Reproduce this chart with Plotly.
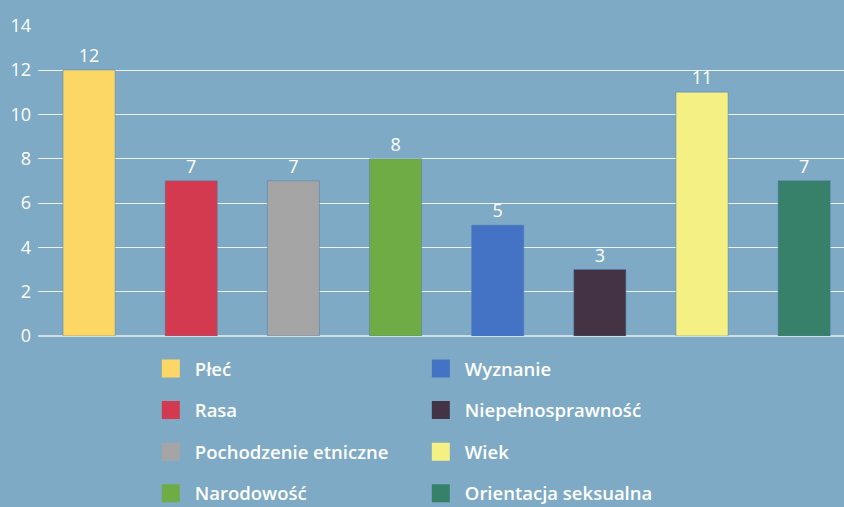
import plotly.graph_objects as go

categories = ["Płeć", "Rasa", "Pochodzenie etniczne", "Narodowość",
              "Wyznanie", "Niepełnosprawność", "Wiek", "Orientacja seksualna"]
values = [12, 7, 7, 8, 5, 3, 11, 7]
colors = ["#fdd766", "#d33a4f", "#a5a5a5", "#6fac45",
          "#4472c4", "#433344", "#f4f084", "#37816a"]
y_ticks = [0, 2, 4, 6, 8, 10, 12, 14]

bg = "#7eaac5"
font_family = "'Open Sans', Roboto, sans-serif"

fig = go.Figure()

# bars (one trace, legend built separately)
fig.add_trace(go.Bar(
    x=categories, y=values,
    marker=dict(color=colors, line=dict(color="rgba(80,120,175,0.45)", width=1)),
    text=[str(v) for v in values], textposition="outside",
    textfont=dict(color="white", size=18, family=font_family),
    cliponaxis=False, showlegend=False, hoverinfo="x+y",
))

# legend entries, split into two columns
for i, (name, col) in enumerate(zip(categories, colors)):
    fig.add_trace(go.Scatter(
        x=[None], y=[None], mode="markers", name=name,
        marker=dict(symbol="square", size=16, color=col, line=dict(color=col, width=2)),
        legend="legend" if i < 4 else "legend2",
        legendgroup=name,
    ))

legend_style = dict(
    font=dict(color="white", size=18.5, family=font_family, weight=600),
    bgcolor="rgba(0,0,0,0)", tracegroupgap=14.5, itemwidth=38,
    yref="container", yanchor="top", y=(507 - 350) / 507, xanchor="left",
)

fig.update_layout(
    width=844, height=507,
    margin=dict(l=38, r=0, t=25, b=171),
    paper_bgcolor=bg, plot_bgcolor=bg,
    bargap=0.49,
    font=dict(family=font_family, color="white"),
    legend=dict(x=0.135, **legend_style),
    legend2=dict(x=0.47, **legend_style),
    xaxis=dict(showticklabels=False, showgrid=False, zeroline=False,
               categoryorder="array", categoryarray=categories,
               range=[-0.5, 7.39], fixedrange=True),
    yaxis=dict(range=[0, 14.03], tickvals=y_ticks, showgrid=True,
               gridcolor="rgba(255,255,255,0.85)", gridwidth=1,
               zeroline=True, zerolinecolor="rgba(220,225,230,0.9)", zerolinewidth=1.5,
               tickfont=dict(color="white", size=18, family=font_family),
               ticks="", ticklabelstandoff=6),
)

fig.write_html("out.html", config={"displayModeBar": False},
               post_script="document.body.style.margin='0';")
